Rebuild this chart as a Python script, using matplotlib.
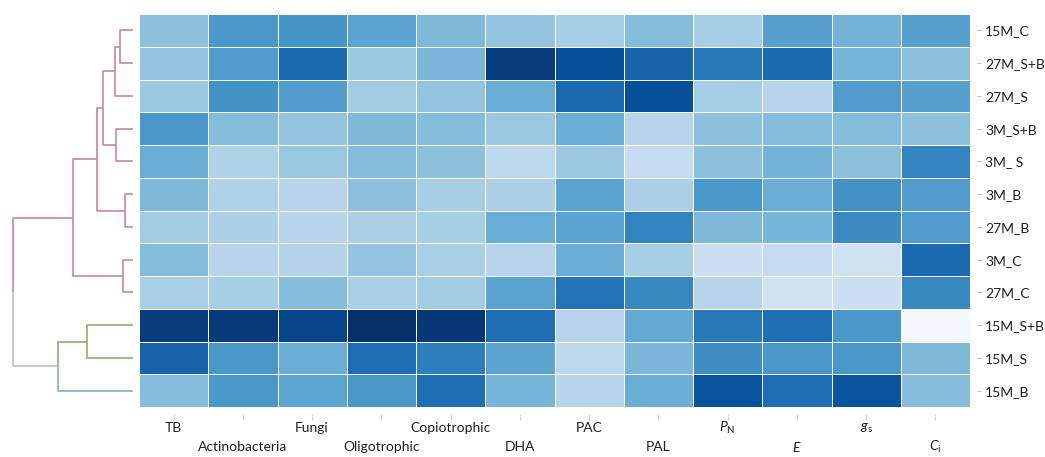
import numpy as np
import matplotlib
matplotlib.use("Agg")
import matplotlib.pyplot as plt

plt.rcParams["font.family"] = ["Lato", "DejaVu Sans"]
plt.rcParams["mathtext.fontset"] = "custom"
plt.rcParams["mathtext.rm"] = "Lato"
plt.rcParams["mathtext.it"] = "Lato:italic"

# Samples (rows, in dendrogram leaf order) and measured variables (columns)
samples = ["15M_C", "27M_S+B", "27M_S", "3M_S+B", "3M_ S", "3M_B",
           "27M_B", "3M_C", "27M_C", "15M_S+B", "15M_S", "15M_B"]
variables = ["TB", "Actinobacteria", "Fungi", "Oligotrophic", "Copiotrophic",
             "DHA", "PAC", "PAL", r"$\mathit{P}_{\mathrm{N}}$", r"$\mathit{E}$",
             r"$\mathit{g}_{\mathrm{s}}$", r"$\mathit{C}_{\mathrm{i}}$"]

# Scaled values (0 = lowest, 1 = highest) per sample
v_15M_C   = [0.42, 0.60, 0.61, 0.55, 0.45, 0.40, 0.35, 0.44, 0.35, 0.56, 0.48, 0.56]
v_27M_SB  = [0.40, 0.58, 0.78, 0.38, 0.46, 0.95, 0.88, 0.80, 0.72, 0.77, 0.47, 0.42]
v_27M_S   = [0.38, 0.62, 0.58, 0.36, 0.40, 0.50, 0.78, 0.88, 0.35, 0.30, 0.58, 0.56]
v_3M_SB   = [0.60, 0.44, 0.40, 0.45, 0.44, 0.38, 0.50, 0.30, 0.42, 0.43, 0.44, 0.42]
v_3M_S    = [0.50, 0.32, 0.39, 0.43, 0.42, 0.28, 0.38, 0.25, 0.42, 0.48, 0.42, 0.68]
v_3M_B    = [0.45, 0.32, 0.30, 0.42, 0.35, 0.33, 0.55, 0.33, 0.60, 0.50, 0.62, 0.58]
v_27M_B   = [0.36, 0.33, 0.30, 0.33, 0.35, 0.50, 0.55, 0.68, 0.45, 0.47, 0.65, 0.58]
v_3M_C    = [0.43, 0.30, 0.31, 0.40, 0.34, 0.30, 0.50, 0.35, 0.22, 0.25, 0.20, 0.78]
v_27M_C   = [0.34, 0.35, 0.43, 0.34, 0.36, 0.55, 0.74, 0.66, 0.30, 0.20, 0.22, 0.66]
v_15M_SB  = [0.95, 0.96, 0.92, 1.00, 0.97, 0.76, 0.30, 0.52, 0.72, 0.76, 0.60, 0.02]
v_15M_S   = [0.80, 0.60, 0.50, 0.76, 0.70, 0.55, 0.28, 0.46, 0.64, 0.60, 0.60, 0.45]
v_15M_B   = [0.44, 0.60, 0.54, 0.60, 0.76, 0.47, 0.30, 0.50, 0.86, 0.76, 0.86, 0.43]

values = np.array([v_15M_C, v_27M_SB, v_27M_S, v_3M_SB, v_3M_S, v_3M_B,
                   v_27M_B, v_3M_C, v_27M_C, v_15M_SB, v_15M_S, v_15M_B])

# Hierarchical clustering merges: (child a, child b, distance); leaves are 0..11
merge_a = [0, 12, 3, 13, 5, 15, 7, 17, 9, 20, 19]
merge_b = [1, 2, 4, 14, 6, 16, 8, 18, 10, 11, 21]
merge_h = [13, 18, 17, 30, 8, 36, 10, 60, 46, 75, 120]

PINK, GREEN, BLUE, GREY = "#c9859f", "#86b565", "#80b3d1", "#c4b9c6"
node_colors = [PINK] * 9 + [GREEN, GREEN, BLUE] + [PINK] * 8 + [GREEN, GREY]

W, H = 1045, 457
fig = plt.figure(figsize=(W / 100, H / 100), dpi=100)

hm_left, hm_right, hm_top, hm_bottom = 139, 970, 14, 407
ax = fig.add_axes([hm_left / W, 1 - hm_bottom / H,
                   (hm_right - hm_left) / W, (hm_bottom - hm_top) / H])
nrow, ncol = values.shape
ax.pcolormesh(np.arange(ncol + 1), np.arange(nrow + 1), values,
              cmap="Blues", vmin=0, vmax=1,
              edgecolors="white", linewidth=0.5)
ax.set_xlim(0, ncol)
ax.set_ylim(nrow, 0)
for s in ax.spines.values():
    s.set_visible(False)

TEXT = "#1f1f1f"
FS = 10

# Row labels on the right
ax.yaxis.tick_right()
ax.spines["right"].set_position(("outward", 5))
ax.set_yticks(np.arange(nrow) + 0.5)
ax.set_yticklabels(samples, fontsize=FS, color=TEXT)
ax.tick_params(axis="y", length=3, width=0.8, color="#bbbbbb", pad=3)

# Column labels below, staggered on two lines
ax.spines["bottom"].set_position(("outward", 5))
ax.set_xticks(np.arange(ncol) + 0.5)
ax.set_xticklabels([])
ax.tick_params(axis="x", length=4, width=0.8, color="#d0d0d0")
for j, lab in enumerate(variables):
    off = 21 if j % 2 == 0 else 40
    ax.annotate(lab, xy=(j + 0.5, 0), xycoords=("data", "axes fraction"),
                xytext=(0, -off), textcoords="offset pixels",
                ha="center", va="center", fontsize=FS, color=TEXT)

# Dendrogram on the left
dax = fig.add_axes([0, 1 - hm_bottom / H, hm_left / W, (hm_bottom - hm_top) / H])
dax.set_xlim(133, -6)
dax.set_ylim(nrow, 0)
dax.axis("off")

pos = {i: i + 0.5 for i in range(nrow)}
height = {i: 0.0 for i in range(nrow)}
for k, (a, b, h) in enumerate(zip(merge_a, merge_b, merge_h)):
    node = nrow + k
    y_parent = (pos[a] + pos[b]) / 2
    for c in (a, b):
        dax.plot([height[c], h, h], [pos[c], pos[c], y_parent],
                 color=node_colors[c], lw=1.2, solid_capstyle="butt")
    pos[node] = y_parent
    height[node] = h

fig.savefig("out.png", dpi=100)
